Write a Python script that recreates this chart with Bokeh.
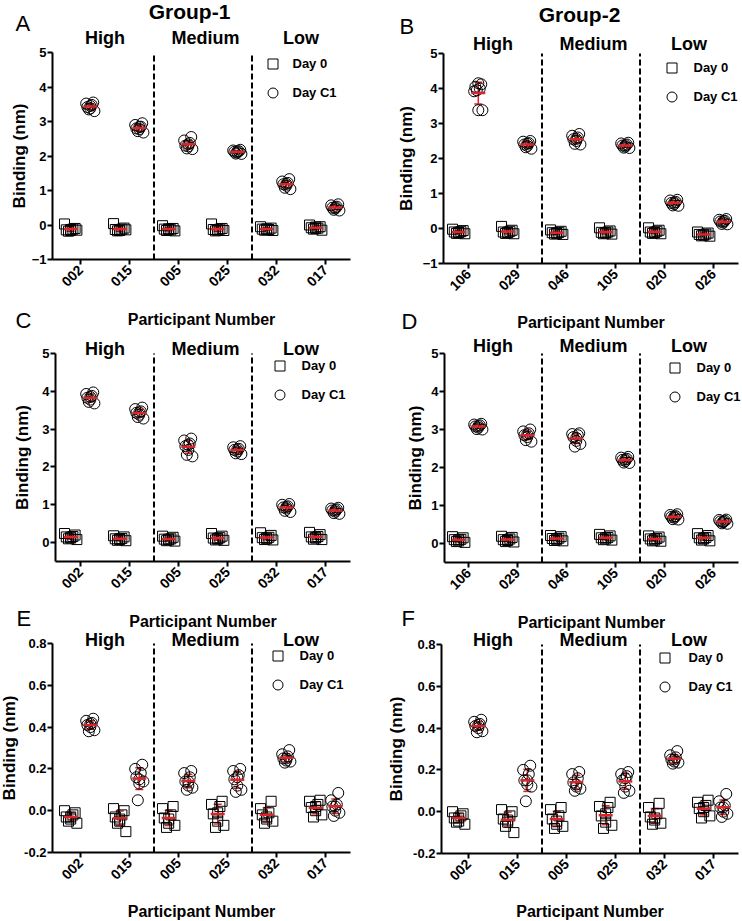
import numpy as np
from bokeh.plotting import figure
from bokeh.layouts import column, row
from bokeh.models import (Range1d, FixedTicker, Label, Legend, LegendItem,
                          Whisker, TeeHead, ColumnDataSource, NumeralTickFormatter)
from bokeh.embed import file_html
from bokeh.resources import INLINE

# ---------------- data ----------------
GROUP1 = ["002", "015", "005", "025", "032", "017"]
GROUP2 = ["106", "029", "046", "105", "020", "026"]
LEVELS = ["High", "Medium", "Low"]
LEVEL_CENTERS = [0.5, 2.55, 4.5]
SEPARATORS = [1.5, 3.5]
DAYS = ["Day 0", "Day C1"]

A_DAY0 = [[-0.14, -0.10, -0.18, -0.12, -0.16, 0.03, -0.15, -0.13],
          [-0.13, -0.09, -0.17, -0.12, -0.15, 0.04, -0.14, -0.16],
          [-0.12, -0.10, -0.16, -0.14, -0.11, -0.02, -0.17, -0.13],
          [-0.13, -0.10, -0.17, -0.12, -0.15, 0.03, -0.16, -0.14],
          [-0.12, -0.09, -0.15, -0.13, -0.11, -0.05, -0.16, -0.14],
          [-0.08, -0.05, -0.12, -0.09, -0.06, 0.00, -0.15, -0.10]]
A_DAYC1 = [[3.42, 3.55, 3.35, 3.48, 3.38, 3.52, 3.30, 3.45],
           [2.80, 2.95, 2.72, 2.85, 2.78, 2.90, 2.68, 2.84],
           [2.30, 2.55, 2.22, 2.38, 2.28, 2.45, 2.20, 2.34],
           [2.12, 2.18, 2.07, 2.14, 2.10, 2.16, 2.06, 2.13],
           [1.18, 1.33, 1.08, 1.22, 1.14, 1.26, 1.04, 1.19],
           [0.50, 0.60, 0.44, 0.53, 0.48, 0.57, 0.42, 0.51]]

B_DAY0 = [[-0.10, -0.06, -0.14, -0.09, -0.12, -0.02, -0.15, -0.11],
          [-0.10, -0.05, -0.14, -0.08, -0.12, 0.06, -0.15, -0.11],
          [-0.12, -0.08, -0.16, -0.11, -0.14, -0.04, -0.17, -0.13],
          [-0.11, -0.07, -0.15, -0.10, -0.13, 0.02, -0.16, -0.12],
          [-0.10, -0.05, -0.14, -0.08, -0.12, 0.02, -0.15, -0.11],
          [-0.17, -0.13, -0.21, -0.16, -0.19, -0.10, -0.22, -0.18]]
B_DAYC1 = [[4.05, 4.12, 3.95, 4.00, 4.15, 3.92, 3.38, 3.38],
           [2.40, 2.50, 2.32, 2.44, 2.36, 2.48, 2.28, 2.42],
           [2.55, 2.70, 2.42, 2.60, 2.50, 2.65, 2.40, 2.56],
           [2.37, 2.45, 2.31, 2.40, 2.34, 2.43, 2.30, 2.38],
           [0.73, 0.82, 0.66, 0.76, 0.70, 0.80, 0.65, 0.74],
           [0.20, 0.27, 0.13, 0.22, 0.17, 0.25, 0.12, 0.21]]

C_DAY0 = [[0.15, 0.20, 0.10, 0.16, 0.12, 0.24, 0.08, 0.14],
          [0.10, 0.15, 0.06, 0.11, 0.08, 0.18, 0.05, 0.10],
          [0.09, 0.14, 0.05, 0.10, 0.07, 0.17, 0.04, 0.09],
          [0.12, 0.17, 0.07, 0.13, 0.09, 0.24, 0.06, 0.11],
          [0.13, 0.19, 0.08, 0.14, 0.10, 0.26, 0.07, 0.12],
          [0.15, 0.21, 0.09, 0.16, 0.12, 0.27, 0.08, 0.14]]
C_DAYC1 = [[3.83, 3.97, 3.72, 3.88, 3.78, 3.93, 3.68, 3.85],
           [3.43, 3.57, 3.32, 3.47, 3.38, 3.53, 3.28, 3.44],
           [2.55, 2.75, 2.32, 2.62, 2.45, 2.70, 2.28, 2.58],
           [2.45, 2.55, 2.36, 2.48, 2.41, 2.52, 2.34, 2.46],
           [0.93, 1.02, 0.84, 0.96, 0.90, 1.00, 0.81, 0.94],
           [0.85, 0.92, 0.78, 0.88, 0.82, 0.90, 0.76, 0.86]]

D_DAY0 = [[0.10, 0.15, 0.05, 0.11, 0.07, 0.18, 0.03, 0.10],
          [0.10, 0.16, 0.05, 0.12, 0.08, 0.19, 0.04, 0.10],
          [0.13, 0.18, 0.08, 0.14, 0.10, 0.21, 0.07, 0.13],
          [0.15, 0.20, 0.10, 0.16, 0.12, 0.24, 0.09, 0.15],
          [0.12, 0.17, 0.07, 0.13, 0.09, 0.20, 0.06, 0.12],
          [0.15, 0.21, 0.09, 0.16, 0.12, 0.26, 0.07, 0.14]]
D_DAYC1 = [[3.08, 3.15, 3.01, 3.11, 3.05, 3.13, 3.00, 3.09],
           [2.85, 3.00, 2.72, 2.90, 2.80, 2.95, 2.68, 2.87],
           [2.80, 2.90, 2.55, 2.85, 2.70, 2.88, 2.62, 2.78],
           [2.20, 2.28, 2.13, 2.23, 2.17, 2.26, 2.12, 2.21],
           [0.70, 0.77, 0.64, 0.72, 0.68, 0.75, 0.63, 0.71],
           [0.58, 0.63, 0.53, 0.60, 0.56, 0.62, 0.52, 0.58]]

E_DAY0 = [[-0.03, -0.01, -0.05, -0.02, -0.04, 0.00, -0.06, -0.03],
          [-0.03, 0.00, -0.06, -0.02, -0.05, 0.01, -0.10, -0.04],
          [-0.035, 0.02, -0.08, -0.02, -0.06, 0.01, -0.07, -0.04],
          [-0.015, 0.045, -0.08, 0.02, -0.05, 0.03, -0.07, -0.01],
          [-0.02, 0.045, -0.06, -0.01, -0.04, 0.01, -0.05, -0.03],
          [0.015, 0.05, -0.03, 0.03, 0.00, 0.045, -0.02, 0.02]]
E_DAYC1 = [[0.41, 0.44, 0.38, 0.42, 0.40, 0.43, 0.385, 0.415],
           [0.16, 0.22, 0.05, 0.18, 0.13, 0.20, 0.14, 0.15],
           [0.14, 0.19, 0.10, 0.16, 0.12, 0.18, 0.11, 0.14],
           [0.15, 0.20, 0.09, 0.17, 0.12, 0.19, 0.10, 0.16],
           [0.25, 0.29, 0.23, 0.26, 0.24, 0.27, 0.235, 0.25],
           [0.02, 0.085, -0.025, 0.03, 0.00, 0.05, -0.01, 0.02]]

F_DAY0 = [[-0.03, -0.01, -0.05, -0.02, -0.045, 0.00, -0.06, -0.03],
          [-0.035, 0.00, -0.07, -0.02, -0.05, 0.01, -0.10, -0.04],
          [-0.035, 0.02, -0.08, -0.02, -0.06, 0.01, -0.07, -0.045],
          [-0.02, 0.045, -0.08, 0.02, -0.05, 0.025, -0.065, -0.01],
          [-0.025, 0.04, -0.06, -0.01, -0.04, 0.02, -0.055, -0.03],
          [0.015, 0.055, -0.03, 0.03, 0.00, 0.045, -0.02, 0.02]]
F_DAYC1 = [[0.41, 0.44, 0.38, 0.42, 0.40, 0.43, 0.385, 0.415],
           [0.15, 0.22, 0.05, 0.18, 0.13, 0.20, 0.12, 0.15],
           [0.14, 0.19, 0.10, 0.16, 0.12, 0.18, 0.11, 0.13],
           [0.15, 0.19, 0.09, 0.17, 0.12, 0.18, 0.10, 0.16],
           [0.25, 0.29, 0.23, 0.26, 0.24, 0.27, 0.235, 0.25],
           [0.02, 0.085, -0.025, 0.03, 0.00, 0.05, -0.01, 0.02]]

Y_TICKS_NM = [-1, 0, 1, 2, 3, 4, 5]
Y_TICKS_NM_POS = [0, 1, 2, 3, 4, 5]
Y_TICKS_SMALL = [-0.2, 0.0, 0.2, 0.4, 0.6, 0.8]

# ---------------- style / layout ----------------
FONT = "Liberation Sans"
RED = "#d8262a"
JITTER = [-0.10, 0.10, -0.05, 0.05, 0.0, -0.14, 0.14, 0.0]
JITTER_SCALE = [0.9, 0.6]
DAY_SHIFT = [-0.2, 0.2]
BASELINE_FIX = 0.34   # label baseline correction, in font-size units

# panel geometry in page pixels: figure box (ox, oy, w, h), plot box (L, R, T, B)
PANELS = [
    dict(parts=GROUP1, d0=A_DAY0, c1=A_DAYC1, ox=0, oy=0, w=371, h=335,
         L=52, R=350, T=52, B=259, tick0=80, sp=49, y0=-1, y1=5, yticks=Y_TICKS_NM, yfmt=None,
         hdr=44, leg=(272, 63, 293), ylsd=0, xlsd=17,
         extra=[("Group-1", 189, 18, 21, "bold", "center"),
                ("A", 15, 30, 22, "normal", "left"),
                ("C", 15, 327, 22, "normal", "left")]),
    dict(parts=GROUP2, d0=B_DAY0, c1=B_DAYC1, ox=371, oy=0, w=370, h=335,
         L=443, R=738, T=53, B=263, tick0=468, sp=49, y0=-1, y1=5, yticks=Y_TICKS_NM, yfmt=None,
         hdr=50, leg=(671, 67, 693), ylsd=4, xlsd=16,
         extra=[("Group-2", 579, 21, 21, "bold", "center"),
                ("B", 399, 33, 22, "normal", "left"),
                ("D", 401, 328, 22, "normal", "left")]),
    dict(parts=GROUP1, d0=C_DAY0, c1=C_DAYC1, ox=0, oy=335, w=371, h=296,
         L=55, R=350, T=353, B=561, tick0=80, sp=49, y0=-0.5, y1=5, yticks=Y_TICKS_NM_POS, yfmt=None,
         hdr=355, leg=(279, 365, 302), ylsd=7, xlsd=17,
         extra=[("E", 16, 625, 22, "normal", "left")]),
    dict(parts=GROUP2, d0=D_DAY0, c1=D_DAYC1, ox=371, oy=335, w=370, h=296,
         L=444, R=738, T=353, B=562, tick0=468, sp=49, y0=-0.5, y1=5, yticks=Y_TICKS_NM_POS, yfmt=None,
         hdr=352, leg=(674, 367, 696), ylsd=3, xlsd=17,
         extra=[("F", 401, 625, 22, "normal", "left")]),
    dict(parts=GROUP1, d0=E_DAY0, c1=E_DAYC1, ox=0, oy=631, w=371, h=289,
         L=52, R=350, T=643, B=852, tick0=80, sp=49, y0=-0.2, y1=0.8, yticks=Y_TICKS_SMALL, yfmt="0.0",
         hdr=646, leg=(277, 655, 300), ylsd=2, xlsd=16, extra=[]),
    dict(parts=GROUP1, d0=F_DAY0, c1=F_DAYC1, ox=371, oy=631, w=370, h=289,
         L=441, R=738, T=644, B=853, tick0=468, sp=49, y0=-0.2, y1=0.8, yticks=Y_TICKS_SMALL, yfmt="0.0",
         hdr=646, leg=(664, 657, 688), ylsd=4, xlsd=15, extra=[]),
]


def make_panel(P):
    sp, t0 = P["sp"], P["tick0"]
    k = (P["y1"] - P["y0"]) / (P["B"] - P["T"])   # data units per pixel (y)

    def dx(ax):
        return (ax - t0) / sp

    def dy(ay):
        return P["y1"] - (ay - P["T"]) * k

    xs, xe = dx(P["L"]), dx(P["R"])
    p = figure(width=P["w"], height=P["h"],
               x_range=Range1d(dx(P["ox"]), dx(P["ox"] + P["w"])),
               y_range=Range1d(dy(P["oy"] + P["h"]), dy(P["oy"])),
               output_backend="svg", toolbar_location=None,
               min_border_left=0, min_border_right=0, min_border_top=0, min_border_bottom=0)
    p.outline_line_color = None
    p.grid.visible = False

    for ax in (p.xaxis, p.yaxis):
        ax.axis_line_width = 2
        ax.axis_line_color = "black"
        ax.major_tick_line_width = 2
        ax.major_tick_line_color = "black"
        ax.major_tick_out = 5
        ax.major_tick_in = 0
        ax.minor_tick_line_color = None
        ax.major_label_text_font = FONT
        ax.major_label_text_font_style = "bold"
        ax.major_label_text_font_size = "13px"
        ax.major_label_text_color = "black"
        ax.axis_label_text_font = FONT
        ax.axis_label_text_font_style = "bold"
        ax.axis_label_text_color = "black"
    p.xaxis.fixed_location = P["y0"]
    p.xaxis.bounds = (xs, xe)
    p.xaxis.ticker = FixedTicker(ticks=list(range(len(P["parts"]))))
    p.xaxis.major_label_overrides = {i: lab for i, lab in enumerate(P["parts"])}
    p.xaxis.major_label_orientation = np.pi / 4
    p.xaxis.major_label_text_font_size = "14px"
    p.xaxis.major_label_standoff = 3
    p.xaxis.axis_label = "Participant Number"
    p.xaxis.axis_label_text_font_size = "16px"
    p.xaxis.axis_label_standoff = P["xlsd"]
    p.yaxis.fixed_location = xs
    p.yaxis.bounds = (P["y0"], P["y1"])
    p.yaxis.ticker = FixedTicker(ticks=P["yticks"])
    if P["yfmt"]:
        p.yaxis.formatter = NumeralTickFormatter(format=P["yfmt"])
    p.yaxis.major_label_standoff = 1
    p.yaxis.axis_label = "Binding (nm)"
    p.yaxis.axis_label_text_font_size = "17px"
    p.yaxis.axis_label_standoff = P["ylsd"]

    # dashed separators between High / Medium / Low
    p.segment(x0=SEPARATORS, y0=[P["y0"]] * len(SEPARATORS),
              x1=SEPARATORS, y1=[P["y1"]] * len(SEPARATORS),
              line_color="black", line_width=2, line_dash="6 3")

    rends = []
    for d, (vals, marker, size) in enumerate([(P["d0"], "square", 10), (P["c1"], "circle", 11)]):
        x, y, mx, mean, lo, hi = [], [], [], [], [], []
        for i, reps in enumerate(vals):
            for j, v in enumerate(reps):
                x.append(i + DAY_SHIFT[d] + JITTER[j % len(JITTER)] * JITTER_SCALE[d])
                y.append(v)
            arr = np.array(reps)
            m, sd = arr.mean(), arr.std(ddof=1)
            mx.append(i + DAY_SHIFT[d])
            mean.append(m)
            lo.append(m - sd)
            hi.append(m + sd)
        src = ColumnDataSource(dict(x=x, y=y))
        r = p.scatter("x", "y", source=src, marker=marker, size=size, fill_alpha=0,
                      line_color="black", line_width=1)
        rends.append(r)
        msrc = ColumnDataSource(dict(x=mx, m=mean, lo=lo, hi=hi))
        p.add_layout(Whisker(source=msrc, base="x", upper="hi", lower="lo",
                             dimension="height", line_color=RED, line_width=1.5,
                             upper_head=TeeHead(size=8, line_color=RED, line_width=1.5),
                             lower_head=TeeHead(size=8, line_color=RED, line_width=1.5)))
        p.scatter("x", "m", source=msrc, marker="dash", size=14, line_color=RED,
                  line_width=2.5)

    cx, cy, tx = P["leg"]
    gw, gap = 25, 4
    legend = Legend(items=[LegendItem(label=DAYS[0], renderers=[rends[0]]),
                           LegendItem(label=DAYS[1], renderers=[rends[1]])],
                    location=(cx - gw / 2 - P["ox"],
                              P["oy"] + P["h"] - (cy - gw / 2 + 2 * gw + gap)),
                    glyph_width=gw, glyph_height=gw, spacing=gap, padding=0, margin=0,
                    label_standoff=int(round(tx - (cx + gw / 2))),
                    border_line_alpha=0, background_fill_alpha=0,
                    label_text_font=FONT, label_text_font_style="bold",
                    label_text_font_size="13px", label_text_color="black")
    p.add_layout(legend)

    def put(text, x, ay, fs, style, align):
        p.add_layout(Label(x=x, y=dy(ay - BASELINE_FIX * fs), text=text, text_font=FONT,
                           text_font_size=f"{fs}px", text_font_style=style,
                           text_color="black", text_align=align,
                           text_baseline="alphabetic"))

    for lev, xc in zip(LEVELS, LEVEL_CENTERS):
        put(lev, xc, P["hdr"], 18, "bold", "center")
    for txt, ax_, ay_, fs, st, al in P["extra"]:
        put(txt, dx(ax_), ay_, fs, st, al)
    return p


figs = [make_panel(P) for P in PANELS]
layout = column(row(figs[0], figs[1]), row(figs[2], figs[3]), row(figs[4], figs[5]))
open("out.html", "w").write(file_html(layout, INLINE))
